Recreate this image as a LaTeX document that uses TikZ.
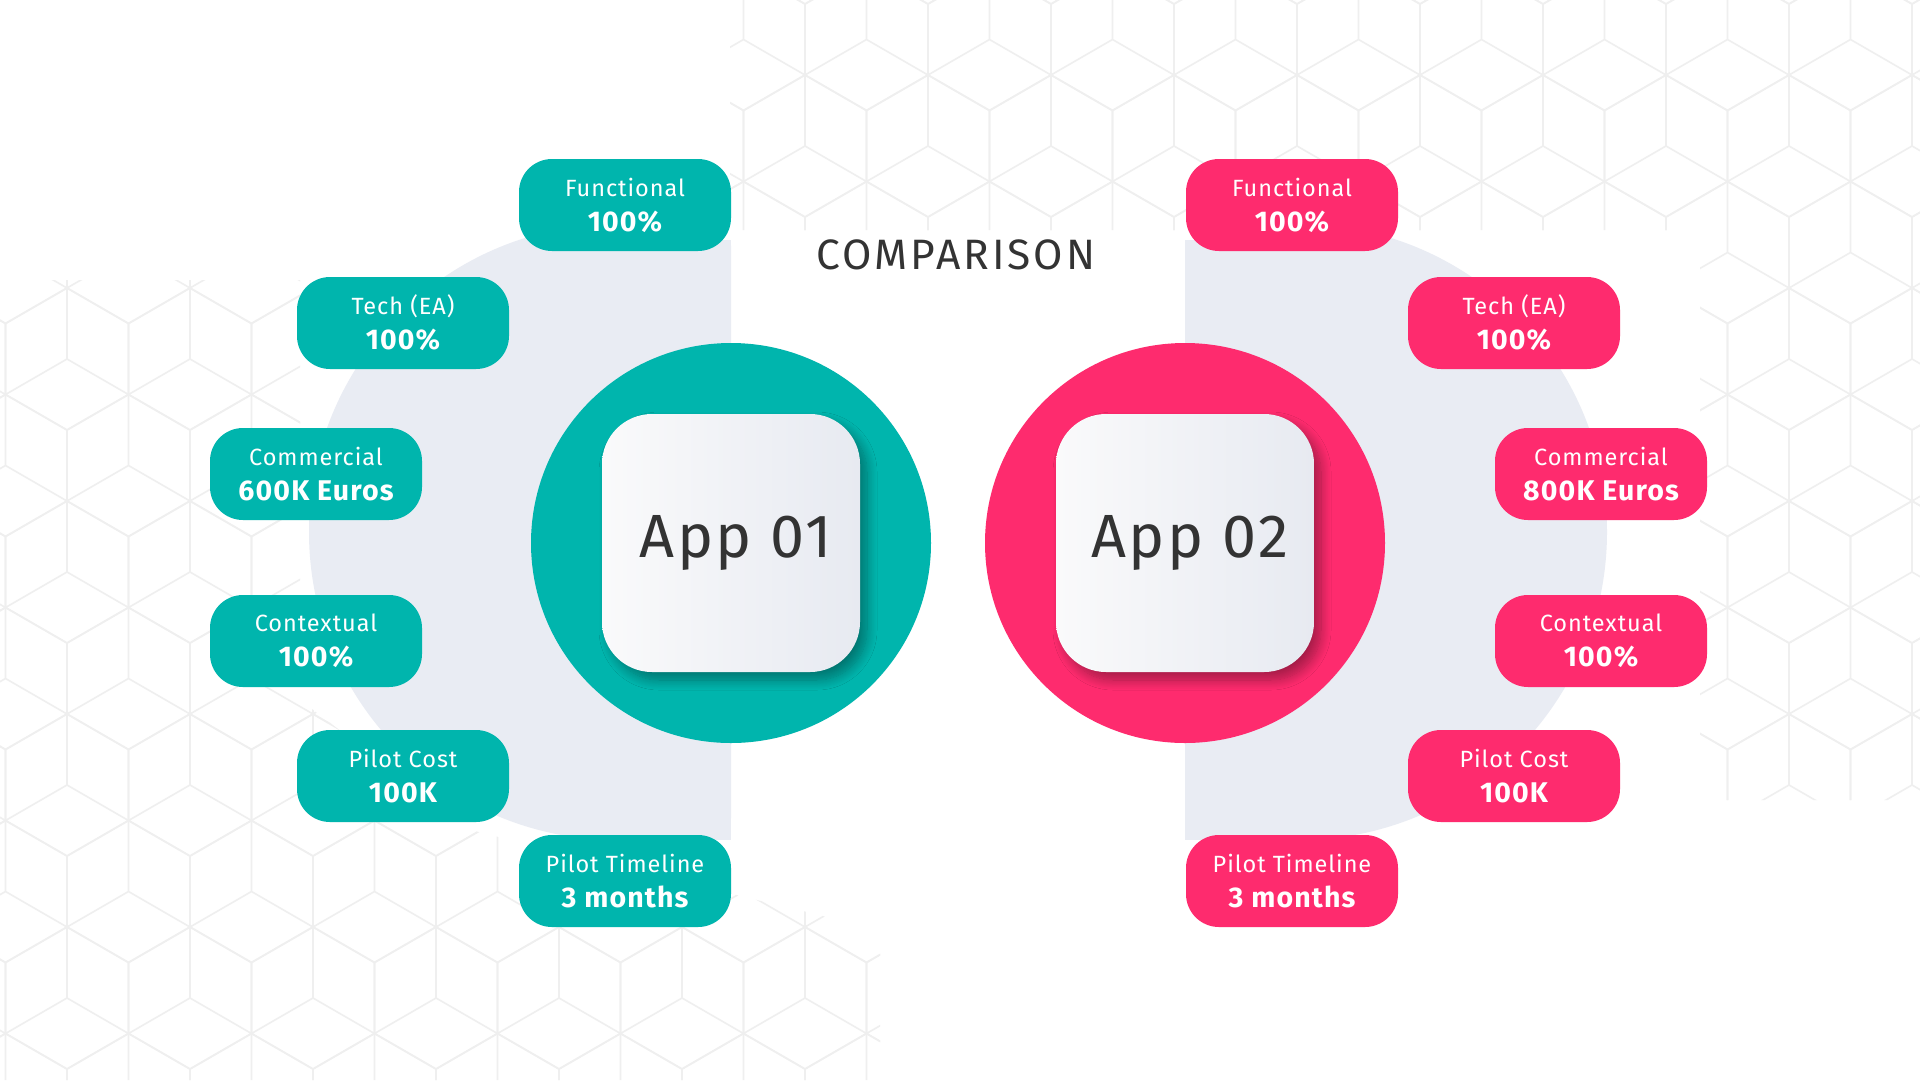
\documentclass[tikz,border=0pt]{standalone}
\usepackage{fontspec}
\setmainfont{Fira Sans}
\newfontfamily\fuentetitulo[LetterSpace=7]{Fira Sans}
\newfontfamily\fuentedato[LetterSpace=4]{Fira Sans}
\newfontfamily\fuenteapp[LetterSpace=4]{Fira Sans}
\usetikzlibrary{shadows.blur}

\definecolor{verde}{HTML}{00B5AD}
\definecolor{rosa}{HTML}{FE2B6E}
\definecolor{grisfondo}{HTML}{E9ECF3}
\definecolor{gristexto}{HTML}{333333}
\definecolor{lineas}{HTML}{EFEFEF}
\definecolor{cajaizq}{HTML}{FAFAFB}
\definecolor{cajader}{HTML}{E7EAF1}

\tikzset{
  dato/.style={rounded corners=33pt, minimum width=212pt, minimum height=92pt,
    inner sep=0pt, text=white, align=center, font=\fuentedato\fontsize{23.5}{35}\selectfont},
  anillo/.style={circle, minimum size=400pt, inner sep=0pt},
  caja/.style={rounded corners=50pt, minimum size=258pt, inner sep=0pt,
    left color=cajaizq, right color=cajader, text=gristexto,
    font=\fuenteapp\fontsize{61}{70}\selectfont,
    blur shadow={shadow xshift=7pt, shadow yshift=-8pt, shadow blur radius=10pt,
      shadow blur steps=12, shadow opacity=35}},
  titulo/.style={text=gristexto, font=\fuentetitulo\fontsize{42.5}{48}\selectfont}
}

\newcommand{\valor}[1]{{\fontsize{28.5}{35}\selectfont\bfseries #1}}

\begin{document}
\begin{tikzpicture}[x=1pt, y=-1pt]
\useasboundingbox[fill=white] (0,0) rectangle (1920,1080);

% Fondo de cubos
\begin{scope}[lineas, line width=1.6pt]
\clip (0,280) -- (300,280) -- (300,700) -- (470,830) -- (880,930) -- (880,1080) -- (0,1080) -- cycle
      (730,0) -- (1920,0) -- (1920,800) -- (1700,800) -- (1700,230) -- (730,230) -- cycle;
\foreach \j in {-4,...,7}
  \foreach \i in {-1,...,16} {
    \pgfmathsetmacro\cx{67+123*\i+61.5*mod(\j+4,2)}
    \pgfmathsetmacro\cy{359+106.5*\j}
    \draw (\cx,\cy) +(270:71) -- +(330:71) -- +(30:71) -- +(90:71) -- +(150:71) -- +(210:71) -- cycle;
    \draw (\cx,\cy) -- +(270:71) (\cx,\cy) -- +(30:71) (\cx,\cy) -- +(150:71);
  }
\end{scope}

% Semicirculos grises
\begin{scope}
\clip (0,0) rectangle (731,1080);
\fill[grisfondo] (617,532) circle (308);
\fill[grisfondo] (617,240) rectangle (731,840);
\end{scope}
\begin{scope}
\clip (1185,0) rectangle (1920,1080);
\fill[grisfondo] (1299,532) circle (308);
\fill[grisfondo] (1185,240) rectangle (1299,840);
\end{scope}

% App 01
\node[anillo, fill=verde] (anillo1) at (731,543) {};
\node[caja] (app1) at (731,543) {\hspace*{10pt}App 01};

% App 02
\node[anillo, fill=rosa] (anillo2) at (1185,543) {};
\node[caja] (app2) at (1185,543) {\hspace*{10pt}App 02};

% Titulo
\node[titulo] (titulo) at (956,255) {COMPARISON};

% Datos App 01
\node[dato, fill=verde] (func1) at (625,205) {Functional\\\valor{100\%}};
\node[dato, fill=verde] (tech1) at (403,323) {Tech (EA)\\\valor{100\%}};
\node[dato, fill=verde] (comm1) at (316,474) {Commercial\\\valor{600K Euros}};
\node[dato, fill=verde] (cont1) at (316,641) {Contextual\\\valor{100\%}};
\node[dato, fill=verde] (cost1) at (403,776) {Pilot Cost\\\valor{100K}};
\node[dato, fill=verde] (time1) at (625,881) {Pilot Timeline\\\valor{3 months}};

% Datos App 02
\node[dato, fill=rosa] (func2) at (1292,205) {Functional\\\valor{100\%}};
\node[dato, fill=rosa] (tech2) at (1514,323) {Tech (EA)\\\valor{100\%}};
\node[dato, fill=rosa] (comm2) at (1601,474) {Commercial\\\valor{800K Euros}};
\node[dato, fill=rosa] (cont2) at (1601,641) {Contextual\\\valor{100\%}};
\node[dato, fill=rosa] (cost2) at (1514,776) {Pilot Cost\\\valor{100K}};
\node[dato, fill=rosa] (time2) at (1292,881) {Pilot Timeline\\\valor{3 months}};

\end{tikzpicture}
\end{document}
